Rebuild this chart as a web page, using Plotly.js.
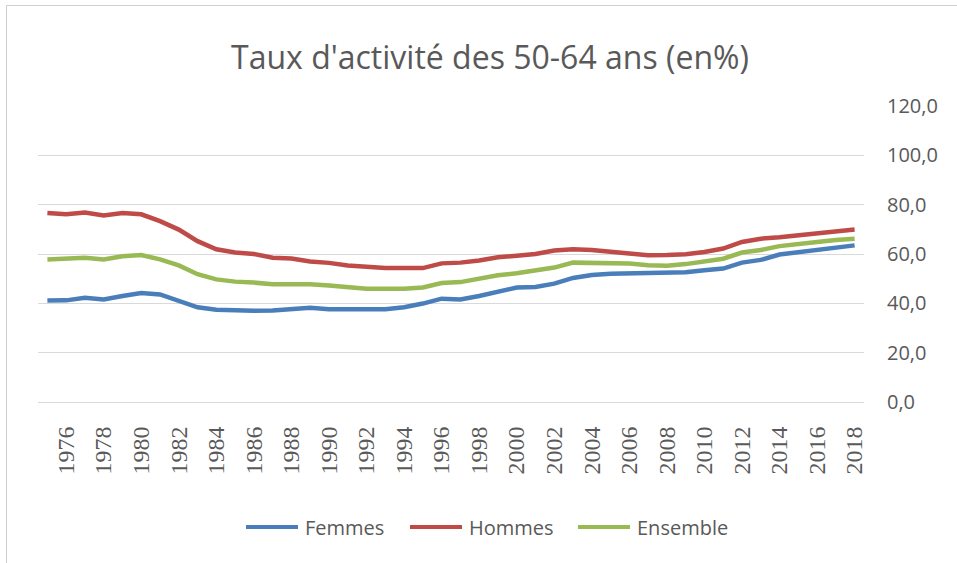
<!DOCTYPE html>
<html>
<head>
<meta charset="utf-8">
<script src="https://cdn.plot.ly/plotly-3.0.1.min.js"></script>
<style>
  html, body { margin: 0; padding: 0; background: #ffffff; overflow: hidden; }
  #frame { position: absolute; left: 6px; top: 5px; width: 1000px; height: 600px;
           border-top: 1px solid #d0d0d0; border-left: 1px solid #d0d0d0; }
  #chart { position: absolute; left: 0; top: 0; width: 957px; height: 563px; }
</style>
</head>
<body>
<div id="frame"></div>
<div id="chart"></div>
<script>
// Activity rate of people aged 50-64, France, 1975-2018 (in %)
const years = [
  1975, 1976, 1977, 1978, 1979, 1980, 1981, 1982, 1983, 1984, 1985,
  1986, 1987, 1988, 1989, 1990, 1991, 1992, 1993, 1994, 1995, 1996,
  1997, 1998, 1999, 2000, 2001, 2002, 2003, 2004, 2005, 2006, 2007,
  2008, 2009, 2010, 2011, 2012, 2013, 2014, 2015, 2016, 2017, 2018
];

const femmes = [
  41.1, 41.2, 42.3, 41.6, 43.0, 44.2, 43.6, 41.1, 38.4, 37.4, 37.0,
  37.0, 37.1, 37.6, 38.2, 37.6, 37.6, 37.6, 37.6, 38.4, 39.9, 41.9,
  41.6, 43.0, 44.9, 46.4, 46.6, 48.0, 50.3, 51.5, 52.0, 52.2, 52.2,
  52.3, 52.6, 53.4, 54.1, 56.5, 57.6, 59.8, 60.8, 61.8, 62.7, 63.5
];

const hommes = [
  76.6, 76.1, 76.8, 75.6, 76.6, 76.1, 73.3, 69.9, 65.2, 61.9, 60.6,
  60.0, 58.5, 58.2, 57.0, 56.4, 55.3, 54.6, 54.3, 54.3, 54.3, 56.2,
  56.5, 57.4, 58.7, 59.3, 60.0, 61.4, 61.9, 61.6, 60.8, 59.9, 59.5,
  59.6, 59.9, 60.8, 62.2, 64.9, 66.2, 66.8, 67.6, 68.1, 69.1, 69.9
];

const ensemble = [
  57.8, 58.0, 58.5, 57.8, 59.1, 59.6, 57.8, 55.4, 51.8, 49.7, 48.8,
  48.4, 47.7, 47.7, 47.7, 47.2, 46.6, 45.9, 45.9, 45.9, 46.4, 48.2,
  48.6, 49.9, 51.4, 52.2, 53.3, 54.5, 56.5, 56.5, 56.4, 56.1, 55.4,
  55.2, 55.9, 57.0, 58.1, 60.6, 61.6, 63.2, 64.2, 64.9, 65.7, 66.2
];

const seriesNames = ['Femmes', 'Hommes', 'Ensemble'];
const seriesColors = ['#4a7ebb', '#be4b48', '#98b954'];

const yTicks = [0, 20, 40, 60, 80, 100, 120];
const yTickText = yTicks.map(v => v.toFixed(1).replace('.', ','));
const xTicks = years.filter(y => y % 2 === 0);

const W = 957, H = 563;
const M = { l: 38, r: 93, t: 106, b: 161 };
const plotW = W - M.l - M.r, plotH = H - M.t - M.b;
const textColor = '#595959';

const data = [femmes, hommes, ensemble].map((vals, i) => ({
  type: 'scatter', mode: 'lines', name: seriesNames[i], x: years, y: vals,
  line: { color: seriesColors[i], width: 4.5 },
  hoverinfo: 'x+y+name'
}));

// Legend below the plot: a long line sample followed by the series name
const legendRowY = 527;            // px from top of the figure
const legendItemStart = [246, 410, 578];   // px from left of the figure
const legendLineLen = 52, legendGap = 5;
const px2x = px => (px - M.l) / plotW;
const px2y = py => (H - M.b - py) / plotH;

const shapes = [], annotations = [];
seriesNames.forEach((name, i) => {
  const x0 = legendItemStart[i];
  shapes.push({
    type: 'line', xref: 'paper', yref: 'paper',
    x0: px2x(x0), x1: px2x(x0 + legendLineLen),
    y0: px2y(legendRowY), y1: px2y(legendRowY),
    line: { color: seriesColors[i], width: 4 }
  });
  annotations.push({
    xref: 'paper', yref: 'paper', showarrow: false,
    x: px2x(x0 + legendLineLen + legendGap), y: px2y(legendRowY),
    xanchor: 'left', yanchor: 'middle', text: name,
    font: { family: 'Open Sans, sans-serif', size: 20, color: textColor }
  });
});

const layout = {
  width: W, height: H,
  paper_bgcolor: 'rgba(0,0,0,0)', plot_bgcolor: 'rgba(0,0,0,0)',
  margin: M,
  title: {
    text: "Taux d'activité des 50-64 ans (en%)",
    font: { family: 'Open Sans, sans-serif', size: 32, color: textColor },
    x: 0.512, xref: 'container', xanchor: 'center',
    y: 0.897, yref: 'container', yanchor: 'middle'
  },
  xaxis: {
    type: 'linear', range: [1974.5, 2018.5],
    tickmode: 'array', tickvals: xTicks, ticktext: xTicks.map(String),
    tickangle: -90, ticks: '', showgrid: false, zeroline: false,
    showline: true, linecolor: '#d9d9d9', linewidth: 1,
    tickfont: { family: 'Liberation Serif, Times New Roman, serif', size: 24, color: textColor },
    ticklabelstandoff: 14
  },
  yaxis: {
    side: 'right', range: [0, 120],
    tickmode: 'array', tickvals: yTicks, ticktext: yTickText,
    showgrid: true, gridcolor: '#d9d9d9', gridwidth: 1, zeroline: false,
    ticks: '', ticklabelstandoff: 22,
    tickfont: { family: 'Open Sans, sans-serif', size: 20, color: textColor }
  },
  showlegend: false,
  shapes: shapes,
  annotations: annotations
};

Plotly.newPlot('chart', data, layout, { displayModeBar: false, staticPlot: true });
</script>
</body>
</html>
